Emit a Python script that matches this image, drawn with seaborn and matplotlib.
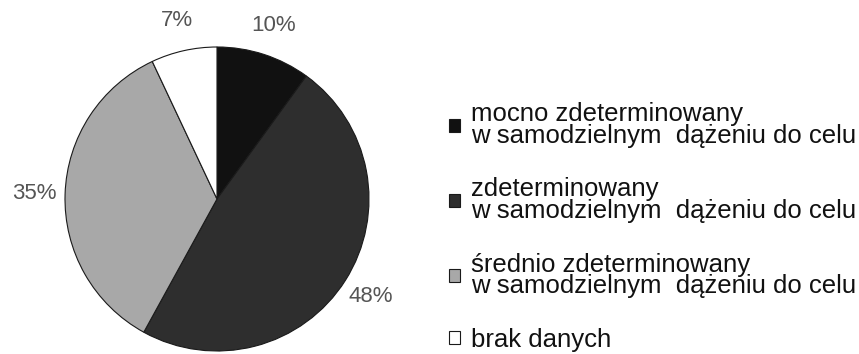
import matplotlib
matplotlib.use("Agg")
import matplotlib.pyplot as plt
import seaborn as sns

categories = [
    "mocno zdeterminowany\nw samodzielnym  dążeniu do celu",
    "zdeterminowany\nw samodzielnym  dążeniu do celu",
    "średnio zdeterminowany\nw samodzielnym  dążeniu do celu",
    "brak danych",
]
shares = [10, 48, 35, 7]
colors = ["#111111", "#2e2e2e", "#a8a8a8", "#ffffff"]

sns.set_theme(style="white")
plt.rcParams["font.family"] = ["Liberation Sans", "DejaVu Sans"]

W, H = 859, 354
fig = plt.figure(figsize=(W / 100, H / 100), dpi=100)
fig.patch.set_facecolor("white")

# square axes holding the pie (pixel geometry converted to figure fractions)
cx, cy, r = 217, 199, 152
ax = fig.add_axes([(cx - r) / W, (H - cy - r) / H, 2 * r / W, 2 * r / H])

wedges, _, autotexts = ax.pie(
    shares,
    colors=colors,
    startangle=90,
    counterclock=False,
    autopct=lambda p: f"{p:.0f}%",
    pctdistance=1.2,
    wedgeprops=dict(edgecolor="#1a1a1a", linewidth=0.8),
    textprops=dict(color="#555555", fontsize=16),
)
ax.set_xlim(-1, 1)
ax.set_ylim(-1, 1)
ax.set_aspect("equal")
ax.axis("off")

fig.legend(
    wedges,
    categories,
    loc="upper left",
    bbox_to_anchor=(449 / W, 1 - 102 / H),
    frameon=False,
    fontsize=18.5,
    handlelength=0.42,
    handleheight=0.42,
    handletextpad=0.45,
    labelspacing=1.15,
    borderpad=0,
    borderaxespad=0,
)
for t in fig.legends[0].get_texts():
    t.set_linespacing(0.88)
    t.set_color("#111111")

fig.savefig("out.png", dpi=100, facecolor="white")
